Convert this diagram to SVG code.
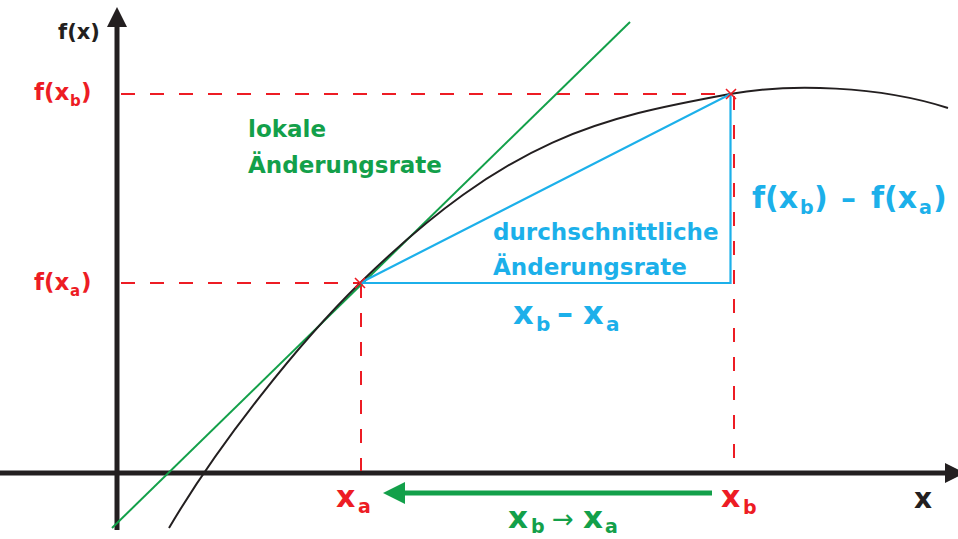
<svg xmlns="http://www.w3.org/2000/svg" width="958" height="539" viewBox="0 0 958 539">
<defs>
<style>
.axis{stroke:#231f20;stroke-width:5;fill:none}
.dash{stroke:#ed1c24;stroke-width:2;stroke-dasharray:14 15;fill:none}
.curve{stroke:#231f20;stroke-width:2;fill:none}
.tan{stroke:#13a04a;stroke-width:2;fill:none}
.sec{stroke:#1cb0ea;stroke-width:2.2;fill:none}
.cross{stroke:#ed1c24;stroke-width:1.6;fill:none}
text{font-family:"DejaVu Sans","Liberation Sans",sans-serif;font-weight:bold}
.red{fill:#ed1c24}
.green{fill:#13a04a}
.blue{fill:#1cb0ea}
.black{fill:#231f20}
</style>
<marker id="axhead" markerUnits="userSpaceOnUse" markerWidth="20" markerHeight="20" refX="0" refY="10" orient="auto">
<path d="M0,0 L20,10 L0,20 Z" fill="#231f20"/>
</marker>
<marker id="ghead" markerUnits="userSpaceOnUse" markerWidth="22" markerHeight="22" refX="0" refY="11" orient="auto">
<path d="M0,0 L22,11 L0,22 Z" fill="#13a04a"/>
</marker>
</defs>
<rect width="958" height="539" fill="#ffffff"/>

<g id="connectors">
<line id="x-axis" class="axis" x1="0" y1="473" x2="945" y2="473" marker-end="url(#axhead)"/>
<line id="y-axis" class="axis" x1="117" y1="530" x2="117" y2="27" marker-end="url(#axhead)"/>
<line class="dash" x1="121" y1="94" x2="731" y2="94"/>
<line class="dash" x1="121" y1="283" x2="360" y2="283"/>
<line class="dash" x1="361" y1="284" x2="361" y2="471"/>
<line class="dash" x1="734" y1="96" x2="734" y2="471"/>
<line id="tangent" class="tan" x1="112" y1="528" x2="630" y2="22"/>
<path id="curve" class="curve" d="M169,528 C219,443 300,341.6 360,283 C510,136.5 600,118 730,94 C790,83 880,86 948,108"/>
<path id="secant" class="sec" d="M360,283 L730.5,94 L730.5,283 Z"/>
<line id="arrow-ba" stroke="#13a04a" stroke-width="5" x1="712" y1="493" x2="405" y2="493" marker-end="url(#ghead)"/>
</g>

<g id="point-a">
<path class="cross" d="M355,278 L365,288 M365,278 L355,288"/>
</g>
<g id="point-b">
<path class="cross" d="M726,89 L736,99 M736,89 L726,99"/>
</g>

<g id="label-fx"><text class="black" x="58" y="39" font-size="21">f(x)</text></g>
<g id="label-fxb"><text class="red" font-size="23" y="100"><tspan x="34">f(x</tspan><tspan x="70" dy="6" font-size="15">b</tspan><tspan x="81" dy="-6">)</tspan></text></g>
<g id="label-fxa"><text class="red" font-size="23" y="290"><tspan x="34">f(x</tspan><tspan x="70" dy="6" font-size="15">a</tspan><tspan x="81" dy="-6">)</tspan></text></g>

<g id="label-lokal">
<text class="green" x="248" y="137" font-size="23">lokale</text>
<text class="green" x="248" y="173" font-size="23">Änderungsrate</text>
</g>

<g id="label-durch">
<text class="blue" x="493" y="240" font-size="23">durchschnittliche</text>
<text class="blue" x="493" y="275" font-size="23">Änderungsrate</text>
</g>

<g id="label-dy"><text class="blue" font-size="30" y="208"><tspan x="752">f(x</tspan><tspan x="800" dy="6" font-size="19">b</tspan><tspan x="814" dy="-6">)</tspan><tspan x="841">–</tspan><tspan x="871">f(x</tspan><tspan x="919" dy="6" font-size="19">a</tspan><tspan x="933" dy="-6">)</tspan></text></g>

<g id="label-dx"><text class="blue" font-size="32" y="324"><tspan x="513">x</tspan><tspan x="536" dy="7" font-size="20">b</tspan><tspan x="557" dy="-7">–</tspan><tspan x="583">x</tspan><tspan x="606" dy="7" font-size="20">a</tspan></text></g>

<g id="label-xa"><text class="red" font-size="30" y="507"><tspan x="336">x</tspan><tspan x="358" dy="6" font-size="19">a</tspan></text></g>
<g id="label-xb"><text class="red" font-size="30" y="507"><tspan x="721">x</tspan><tspan x="743" dy="7" font-size="19">b</tspan></text></g>

<g id="label-limit"><text class="green" font-size="31" y="528"><tspan x="508">x</tspan><tspan x="531" dy="5" font-size="19">b</tspan><tspan x="552" dy="-5" font-size="26" font-weight="normal">→</tspan><tspan x="583">x</tspan><tspan x="605" dy="5" font-size="19">a</tspan></text></g>

<g id="label-x"><text class="black" x="914" y="508" font-size="28">x</text></g>
</svg>
